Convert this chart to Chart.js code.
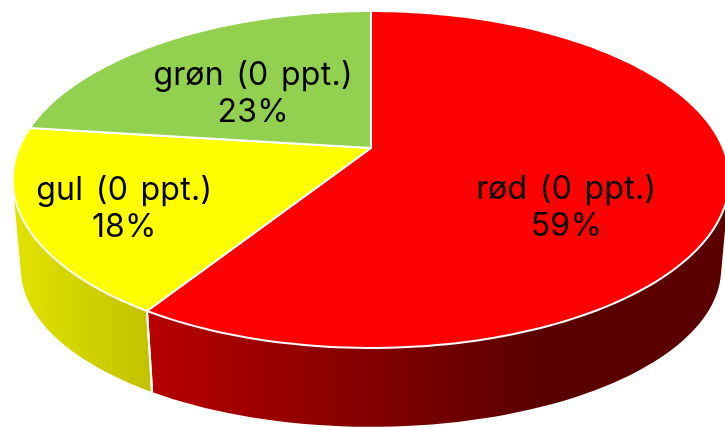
<!DOCTYPE html>
<html>
<head>
<meta charset="utf-8">
<style>
  html, body { margin: 0; padding: 0; background: #fff; overflow: hidden; }
  #wrap { width: 725px; height: 427px; }
</style>
<script src="https://cdn.jsdelivr.net/npm/chart.js@4"></script>
</head>
<body>
<div id="wrap"><canvas id="chart"></canvas></div>
<script>
const categories = ["rød", "gul", "grøn"];
const ppt = [0, 0, 0];
const shares = [59, 18, 23];
const faceColors = ["#ff0000", "#ffff00", "#92d050"];
const wallColors = [["#b80000", "#5a0000"], ["#e2e200", "#c2c200"], ["#6e9c3c", "#6e9c3c"]];
const wallGradientX = [[146, 540], [15, 150], [0, 725]];
const labelOffsets = [[-14, 31], [-46, 17], [11, 13]];

// perspective of the disc: top face and bottom face of the cylinder
const topFace = { cx: 371, ax: 352, a: 148, b: 134.9, c: -0.187 };
const bottomFace = { cx: 371, ax: 344, a: 239, b: 108, c: -0.187 };

function project(face, angle, r) {
  const u = r * Math.cos(angle);
  const v = r * Math.sin(angle);
  const d = 1 + face.c * v;
  return { x: face.cx + (face.ax * u) / d, y: (face.a + face.b * v) / d };
}

function drawWall(ctx, arc, i) {
  const steps = 120;
  const step = (arc.endAngle - arc.startAngle) / steps;
  ctx.beginPath();
  for (let s = 0; s < steps; s++) {
    const a0 = arc.startAngle + s * step;
    const a1 = a0 + step;
    const q = [project(topFace, a0, 1), project(topFace, a1, 1), project(bottomFace, a1, 1), project(bottomFace, a0, 1)];
    let area = 0;
    for (let k = 0; k < 4; k++) {
      const p = q[k];
      const n = q[(k + 1) % 4];
      area += p.x * n.y - n.x * p.y;
    }
    if (area < 0) q.reverse();
    ctx.moveTo(q[0].x, q[0].y);
    for (let k = 1; k < 4; k++) ctx.lineTo(q[k].x, q[k].y);
    ctx.closePath();
  }
  const g = ctx.createLinearGradient(wallGradientX[i][0], 0, wallGradientX[i][1], 0);
  g.addColorStop(0, wallColors[i][0]);
  g.addColorStop(1, wallColors[i][1]);
  ctx.fillStyle = g;
  ctx.fill("nonzero");
}

function drawDivider(ctx, angle) {
  if (Math.sin(angle) <= 0) return;
  const p0 = project(topFace, angle, 1);
  const p1 = project(bottomFace, angle, 1);
  ctx.beginPath();
  ctx.moveTo(p0.x, p0.y);
  ctx.lineTo(p1.x, p1.y);
  ctx.strokeStyle = "#fff";
  ctx.lineWidth = 2;
  ctx.stroke();
}

function drawFace(ctx, arc, i) {
  const steps = 160;
  const apex = project(topFace, 0, 0);
  ctx.beginPath();
  ctx.moveTo(apex.x, apex.y);
  for (let s = 0; s <= steps; s++) {
    const a = arc.startAngle + (s * (arc.endAngle - arc.startAngle)) / steps;
    const p = project(topFace, a, 1);
    ctx.lineTo(p.x, p.y);
  }
  ctx.closePath();
  ctx.fillStyle = faceColors[i];
  ctx.fill();
  ctx.strokeStyle = "#fff";
  ctx.lineWidth = 2;
  ctx.lineJoin = "round";
  ctx.stroke();
}

function drawLabel(ctx, arc, i) {
  const mid = project(topFace, (arc.startAngle + arc.endAngle) / 2, 0.6);
  const x = mid.x + labelOffsets[i][0];
  const y = mid.y + labelOffsets[i][1];
  ctx.fillStyle = "#000";
  ctx.font = "400 32px Inter";
  ctx.textAlign = "center";
  ctx.textBaseline = "middle";
  ctx.letterSpacing = "0.3px";
  ctx.wordSpacing = "3px";
  ctx.fillText(categories[i] + " (" + ppt[i] + " ppt.)", x, y - 18);
  ctx.letterSpacing = "0.2px";
  ctx.fillText(shares[i] + "%", x, y + 19);
}

const perspectivePie = {
  id: "perspectivePie",
  beforeDatasetDraw(chart, args) {
    const ctx = chart.ctx;
    const arcs = args.meta.data;
    ctx.save();
    arcs.forEach((arc, i) => drawWall(ctx, arc, i));
    arcs.forEach((arc) => {
      drawDivider(ctx, arc.startAngle);
      drawDivider(ctx, arc.endAngle);
    });
    arcs.forEach((arc, i) => drawFace(ctx, arc, i));
    arcs.forEach((arc, i) => drawLabel(ctx, arc, i));
    ctx.restore();
    return false;
  },
};

new Chart(document.getElementById("chart"), {
  type: "pie",
  data: {
    labels: categories,
    datasets: [{ data: shares, backgroundColor: faceColors }],
  },
  options: {
    responsive: true,
    maintainAspectRatio: false,
    animation: false,
    plugins: { legend: { display: false }, tooltip: { enabled: false } },
  },
  plugins: [perspectivePie],
});
</script>
</body>
</html>
